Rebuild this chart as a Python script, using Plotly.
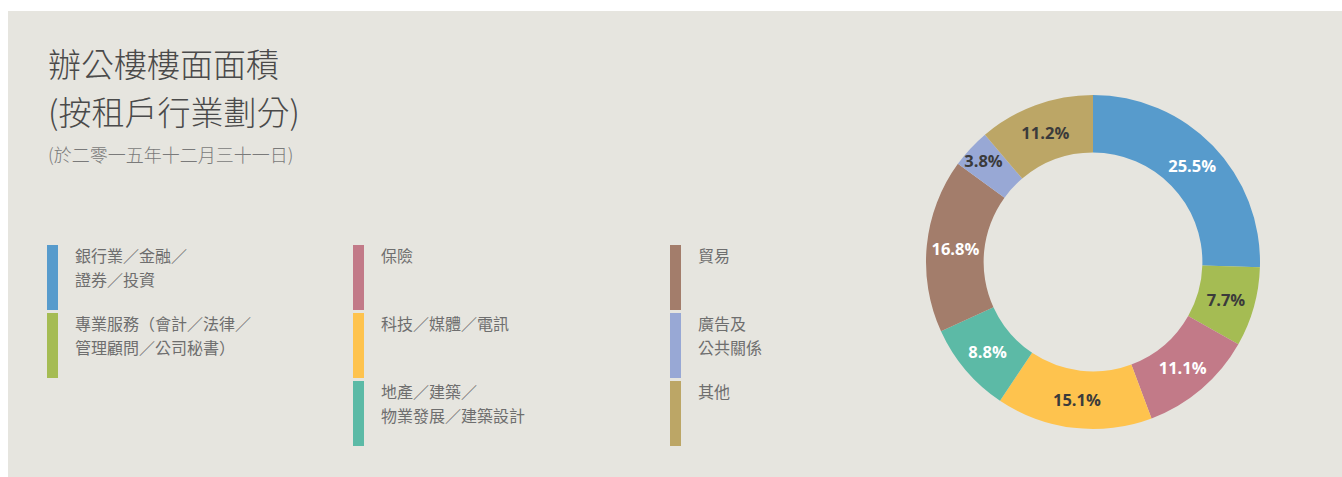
import plotly.graph_objects as go

W, H = 1342, 477

categories = [["銀行業／金融／", "證券／投資"], ["專業服務（會計／法律／", "管理顧問／公司秘書）"], ["保險"],
              ["科技／媒體／電訊"], ["地產／建築／", "物業發展／建築設計"], ["貿易"], ["廣告及", "公共關係"], ["其他"]]
values = [25.5, 7.7, 11.1, 15.1, 8.8, 16.8, 3.8, 11.2]
colors = ["#579bcc", "#a5bc53", "#c27a88", "#fec34e", "#5cbaa6", "#a37d6b", "#98a8d5", "#bca666"]
label_colors = ["#ffffff", "#3b3b3b", "#ffffff", "#3b3b3b", "#ffffff", "#ffffff", "#3b3b3b", "#3b3b3b"]
legend_cols = [0, 0, 1, 1, 1, 2, 2, 2]
legend_rows = [0, 1, 0, 1, 2, 0, 1, 2]

title_lines = ["辦公樓樓面面積", "(按租戶行業劃分)"]
subtitle = "(於二零一五年十二月三十一日)"

BG = "#e6e5df"
CJK = "Noto Sans CJK TC"

def px(x):
    return x / W

def py(y):
    return 1 - y / H

fig = go.Figure()

cx, cy, R = 1093, 262, 167
fig.add_trace(go.Pie(
    values=values,
    labels=["".join(c) for c in categories],
    marker=dict(colors=colors, line=dict(width=0)),
    hole=0.655,
    sort=False,
    direction="clockwise",
    rotation=0,
    textinfo="text",
    text=[f"{v:.1f}%" for v in values],
    textposition="inside",
    insidetextorientation="horizontal",
    textfont=dict(family="Open Sans", size=16.5, color=label_colors, weight="bold"),
    domain=dict(x=[px(cx - R), px(cx + R)], y=[py(cy + R), py(cy - R)]),
    showlegend=False,
    hoverinfo="label+text",
))

shapes = [dict(type="rect", xref="paper", yref="paper", x0=px(8), x1=1, y0=0, y1=py(11),
               fillcolor=BG, line=dict(width=0), layer="below")]
annotations = []
for k, (t, yc) in enumerate(zip(title_lines, [63, 111])):
    annotations.append(dict(text=t, x=px(46), y=py(yc), xanchor="left", yanchor="middle",
                            align="left", showarrow=False,
                            font=dict(family=CJK, size=33, color="#4a4a4a", weight=300)))
annotations.append(dict(text=subtitle, x=px(46), y=py(154), xanchor="left", yanchor="middle", showarrow=False,
                        font=dict(family=CJK, size=18, color="#7a7a7a", weight=300)))

col_x = [47, 353, 670]
row_y = [245, 313, 381]
bar_h, bar_w = 65, 11
line_gap = 24
for i, lines in enumerate(categories):
    x0 = col_x[legend_cols[i]]
    y0 = row_y[legend_rows[i]]
    shapes.append(dict(type="rect", xref="paper", yref="paper",
                       x0=px(x0), x1=px(x0 + bar_w), y0=py(y0 + bar_h), y1=py(y0),
                       fillcolor=colors[i], line=dict(width=0)))
    for k, line in enumerate(lines):
        annotations.append(dict(text=line, x=px(x0 + 26), y=py(y0 + 10 + k * line_gap),
                                xanchor="left", yanchor="middle",
                                align="left", showarrow=False,
                                font=dict(family=CJK, size=16, color="#6e6e6e")))

fig.update_layout(
    width=W, height=H,
    margin=dict(l=0, r=0, t=0, b=0),
    paper_bgcolor="#ffffff",
    plot_bgcolor="#ffffff",
    shapes=shapes,
    annotations=annotations,
    uniformtext=dict(minsize=16, mode="show"),
)

fig.write_html("out.html")
